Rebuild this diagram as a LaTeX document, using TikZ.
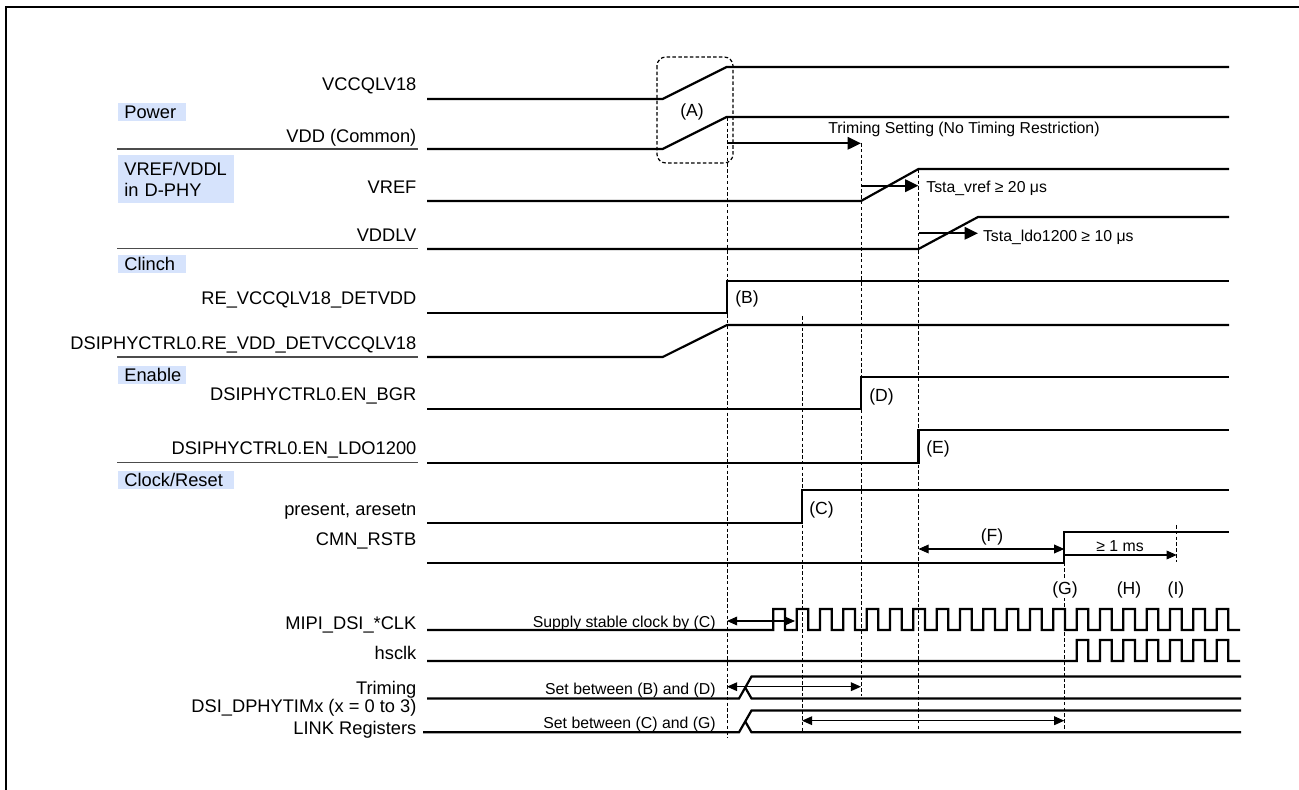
\documentclass[tikz,border=0pt]{standalone}
\usepackage{fontspec}
\setmainfont{Liberation Sans}
\usetikzlibrary{arrows.meta}
\definecolor{grpfill}{RGB}{214,227,252}

\begin{document}
\begin{tikzpicture}[x=0.02cm,y=-0.02cm,
 font=\fontsize{10.4}{12}\selectfont,
 sig/.style={line width=1.25pt},
 guide/.style={line width=0.5pt,dash pattern=on 2pt off 1.3pt},
 sep/.style={line width=0.8pt,black!70},
 lbl/.style={anchor=east,inner sep=0pt,text height=7.4pt,text depth=0pt},
 note/.style={inner sep=0pt,text height=6.4pt,text depth=0pt,font=\fontsize{9}{10.8}\selectfont},
 tag/.style={inner sep=0pt,text height=7.2pt,text depth=0pt,font=\fontsize{10}{12}\selectfont},
 grp/.style={fill=grpfill,anchor=north west,inner xsep=0.12cm,inner ysep=0pt,minimum height=0.36cm,align=left},
 fat/.style={line width=1.3pt,-{Triangle[length=7.6pt,width=7pt]}},
 span/.style={line width=0.6pt,{Triangle[length=5.8pt,width=5pt]}-{Triangle[length=5.8pt,width=5pt]}}]
\useasboundingbox (0,0) rectangle (1299,790);
\draw[line width=1.1pt] (6,790) -- (6,7.3) -- (1299,7.3);
\node[grp,text width=1.12cm,text height=7.4pt,text depth=0pt] (gpower) at (118,103) {Power};
\node[grp,text width=2.08cm,minimum height=0.96cm] (gvref) at (118,155) {VREF/VDDL\\in D-PHY};
\node[grp,text width=1.12cm,text height=7.4pt,text depth=0pt] (gclinch) at (118,255) {Clinch};
\node[grp,text width=1.12cm,text height=7.4pt,text depth=0pt] (genable) at (118,365.3) {Enable};
\node[grp,text width=2.08cm,text height=7.4pt,text depth=0pt] (gclock) at (118,471) {Clock/Reset};
\foreach \y in {149,248.7,357,462.7} \draw[sep] (117,\y) -- (418,\y);
\foreach \n/\y/\t in {vcc/84/VCCQLV18,vdd/136/VDD (Common),vref/187/VREF,vddlv/235/VDDLV,
 detvdd/298/RE\_VCCQLV18\_DETVDD,detvcc/343/DSIPHYCTRL0.RE\_VDD\_DETVCCQLV18,
 bgr/394.5/DSIPHYCTRL0.EN\_BGR,ldo/447.5/DSIPHYCTRL0.EN\_LDO1200,rst/509/{present, aresetn},
 cmn/538.5/CMN\_RSTB,mipi/623/MIPI\_DSI\_*CLK,hs/652.5/hsclk,trim/688/Triming,
 tim/706/DSI\_DPHYTIMx (x = 0 to 3),link/727.5/LINK Registers}
 \node[lbl] (l\n) at (416.7,\y) {\t};
\draw[sig] (427,99) -- (662.7,99) -- (726.7,67) -- (1229,67);
\draw[sig] (427,149) -- (662.7,149) -- (726.7,117) -- (1229,117);
\draw[sig] (427,201) -- (861,201) -- (918.5,169) -- (1229,169);
\draw[sig] (427,249) -- (918.5,249) -- (978,217) -- (1229,217);
\draw[sig] (427,313) -- (727,313) -- (727,281) -- (1229,281);
\draw[sig] (427,357) -- (662.7,357) -- (727,325) -- (1229,325);
\draw[sig] (427,409) -- (861,409) -- (861,377) -- (1229,377);
\draw[sig] (427,462.7) -- (918.5,462.7) -- (918.5,430) -- (1229,430);
\draw[sig] (427,522.7) -- (802,522.7) -- (802,490) -- (1229,490);
\draw[sig] (427,562.7) -- (1064.3,562.7) -- (1064.3,532.3) -- (1229,532.3);
\draw[sig] (427,630) -- (773.33,630) \foreach \k in {0,...,19}{
 -- ({773.33+23.333*\k},609) -- ({785+23.333*\k},609) -- ({785+23.333*\k},630) -- ({796.67+23.333*\k},630)};
\draw[sig] (427,661) -- (1076.67,661) \foreach \k in {13,...,19}{
 -- ({773.33+23.333*\k},640) -- ({785+23.333*\k},640) -- ({785+23.333*\k},661) -- ({796.67+23.333*\k},661)};
\draw[sig] (427,698.5) -- (739,698.5) -- (751.5,676.5) -- (1241,676.5);
\draw[sig] (745.2,687.5) -- (751.5,698.5) -- (1241,698.5);
\draw[sig] (423,732.3) -- (739,732.3) -- (751.5,710.5) -- (1241,710.5);
\draw[sig] (745.2,721.4) -- (751.5,732.3) -- (1241,732.3);
\draw[guide,line width=0.7pt,rounded corners=5pt] (657,57) rectangle (733,163);
\draw[guide] (727,117) -- (727,738);
\draw[guide] (861,143) -- (861,696);
\draw[guide] (918.5,169) -- (918.5,732);
\draw[guide] (802,316) -- (802,732);
\draw[guide] (1064.3,562.7) -- (1064.3,732);
\draw[guide] (1176.7,525) -- (1176.7,562);
\draw[fat] (727,143.3) -- (861,143.3);
\draw[fat] (861,185.7) -- (918.5,185.7);
\draw[fat] (918.5,233.3) -- (978,233.3);
\draw[span] (727,621) -- (795,621);
\draw[span] (727,686.7) -- (861,686.7);
\draw[span] (802,720.7) -- (1064.3,720.7);
\draw[span] (918.5,549) -- (1064.3,549);
\draw[line width=0.6pt,-{Triangle[length=5.8pt,width=5pt]}] (1064.3,555) -- (1176.7,555);
\node[note,anchor=west] (trimnote) at (828,128) {Triming Setting (No Timing Restriction)};
\node[note,anchor=west] (vrefnote) at (926,187.3) {Tsta\_vref ≥ 20 μs};
\node[note,anchor=west] (ldonote) at (982.7,236) {Tsta\_ldo1200 ≥ 10 μs};
\node[note,anchor=east] (clknote) at (716,622) {Supply stable clock by (C)};
\node[note,anchor=east] (bdnote) at (716,689.3) {Set between (B) and (D)};
\node[note,anchor=east] (cgnote) at (716,723.3) {Set between (C) and (G)};
\node[note] (msnote) at (1120,546) {≥ 1 ms};
\node[tag] (tA) at (692,110) {(A)};
\node[tag,anchor=west] (tB) at (735,297) {(B)};
\node[tag,anchor=west] (tC) at (809,508) {(C)};
\node[tag,anchor=west] (tD) at (869,395) {(D)};
\node[tag,anchor=west] (tE) at (926,447) {(E)};
\node[tag] (tF) at (992,535) {(F)};
\node[tag,fill=white,inner ysep=2pt] (tG) at (1065,588) {(G)};
\node[tag] (tH) at (1129,588) {(H)};
\node[tag] (tI) at (1176,588) {(I)};
\end{tikzpicture}
\end{document}
